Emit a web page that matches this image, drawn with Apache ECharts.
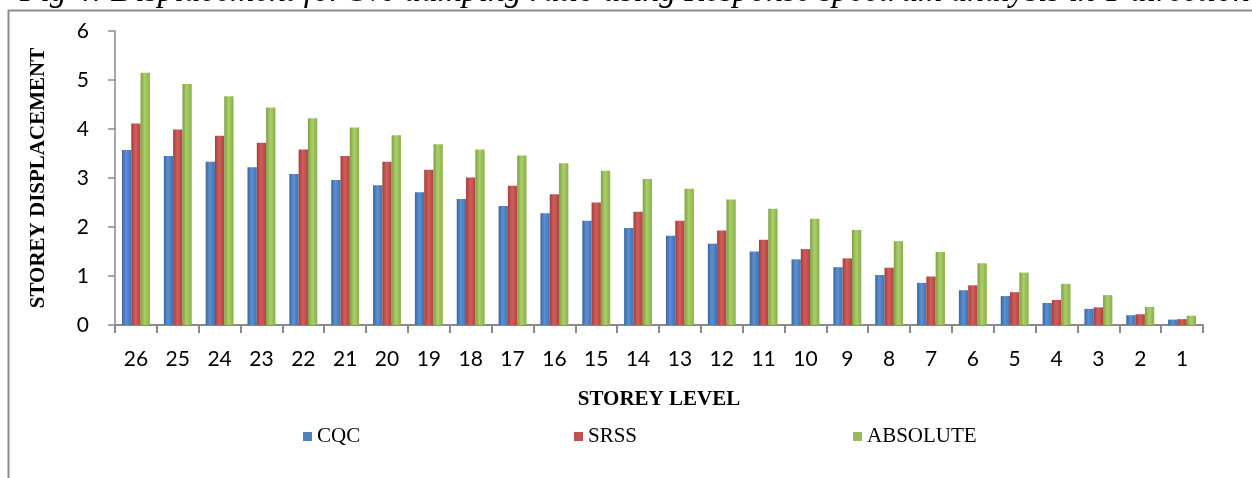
<!DOCTYPE html>
<html>
<head>
<meta charset="utf-8">
<script src="https://cdn.jsdelivr.net/npm/echarts@6/dist/echarts.min.js"></script>
<style>
  html, body { margin: 0; padding: 0; background: #fff; }
  #chart { width: 1252px; height: 478px; }
</style>
</head>
<body>
<div id="chart"></div>
<script>
const storeys = ['26', '25', '24', '23', '22', '21', '20', '19', '18', '17', '16', '15', '14',
  '13', '12', '11', '10', '9', '8', '7', '6', '5', '4', '3', '2', '1']

const cqc = [3.57, 3.45, 3.33, 3.22, 3.08, 2.96, 2.85, 2.71, 2.57, 2.43, 2.28, 2.13, 1.98,
  1.82, 1.66, 1.50, 1.34, 1.18, 1.02, 0.86, 0.71, 0.59, 0.45, 0.33, 0.20, 0.11]
const srss = [4.11, 3.99, 3.86, 3.72, 3.58, 3.45, 3.33, 3.17, 3.01, 2.84, 2.67, 2.50, 2.31,
  2.13, 1.93, 1.74, 1.55, 1.36, 1.17, 0.99, 0.81, 0.67, 0.51, 0.36, 0.22, 0.12]
const absolute = [5.15, 4.92, 4.67, 4.44, 4.22, 4.03, 3.87, 3.69, 3.58, 3.46, 3.30, 3.15, 2.98,
  2.78, 2.56, 2.37, 2.17, 1.94, 1.71, 1.49, 1.26, 1.07, 0.84, 0.61, 0.37, 0.19]

const chart = echarts.init(document.getElementById('chart'))

// cylinder-ish shading like the excel 3d columns
const shade = (dark, light, mid) => new echarts.graphic.LinearGradient(0, 0, 1, 0, [
  { offset: 0, color: dark },
  { offset: 0.45, color: light },
  { offset: 1, color: mid }
])

const serif = '"Liberation Serif", "Times New Roman", serif'

const legendBase = {
  top: 421,
  itemWidth: 9,
  itemHeight: 9,
  icon: 'rect',
  textStyle: { fontFamily: serif, fontSize: 21, color: '#000' }
}

const options = {
  animation: false,
  graphic: [
    {
      type: 'rect',
      shape: { x: 8.5, y: 10.5, width: 1300, height: 500 },
      style: { fill: 'none', stroke: '#8c8c8c', lineWidth: 2 }
    },
    {
      type: 'text',
      x: 20,
      y: 9,
      style: {
        text: 'Fig 4: Displacement for 5% damping ratio using Response spectrum analysis in Y direction',
        font: 'italic 33.5px "Liberation Serif"',
        fill: '#000',
        textVerticalAlign: 'bottom'
      }
    }
  ],
  grid: {
    left: 115,
    right: 49,
    top: 31,
    bottom: 153
  },
  legend: [
    Object.assign({ left: 298, data: [{ name: 'CQC', itemStyle: { color: '#4f81bd' } }] }, legendBase),
    Object.assign({ left: 569, data: [{ name: 'SRSS', itemStyle: { color: '#c0504d' } }] }, legendBase),
    Object.assign({ left: 848, data: [{ name: 'ABSOLUTE', itemStyle: { color: '#9bbb59' } }] }, legendBase)
  ],
  xAxis: {
    type: 'category',
    data: storeys,
    name: 'STOREY LEVEL',
    nameLocation: 'middle',
    nameGap: 64,
    nameTextStyle: { fontFamily: serif, fontWeight: 'bold', fontSize: 21, color: '#000' },
    axisLine: { lineStyle: { color: '#8a8a8a', width: 2 } },
    axisTick: { show: true, length: 8, lineStyle: { color: '#8a8a8a', width: 2 } },
    axisLabel: { fontFamily: 'Lato', fontSize: 21, color: '#000', margin: 24 }
  },
  yAxis: {
    type: 'value',
    min: 0,
    max: 6,
    interval: 1,
    name: 'STOREY DISPLACEMENT',
    nameLocation: 'middle',
    nameGap: 66,
    nameTextStyle: { fontFamily: serif, fontWeight: 'bold', fontSize: 21, color: '#000' },
    axisLine: { show: true, lineStyle: { color: '#8a8a8a', width: 1.5 } },
    axisTick: { show: true, length: 7, lineStyle: { color: '#8a8a8a', width: 1.5 } },
    axisLabel: { fontFamily: 'Lato', fontSize: 21, color: '#000', margin: 26 },
    splitLine: { show: false }
  },
  series: [
    {
      name: 'CQC',
      type: 'bar',
      data: cqc,
      barWidth: 9.3,
      barGap: '0%',
      itemStyle: { color: shade('#3a66a3', '#5b90d2', '#4171b0') }
    },
    {
      name: 'SRSS',
      type: 'bar',
      data: srss,
      barWidth: 9.3,
      barGap: '0%',
      itemStyle: { color: shade('#a33d3a', '#d25e5b', '#ad4542') }
    },
    {
      name: 'ABSOLUTE',
      type: 'bar',
      data: absolute,
      barWidth: 9.3,
      barGap: '0%',
      itemStyle: { color: shade('#7e9f40', '#abcf69', '#8aae4a') }
    }
  ]
}

chart.setOption(options)
</script>
</body>
</html>
